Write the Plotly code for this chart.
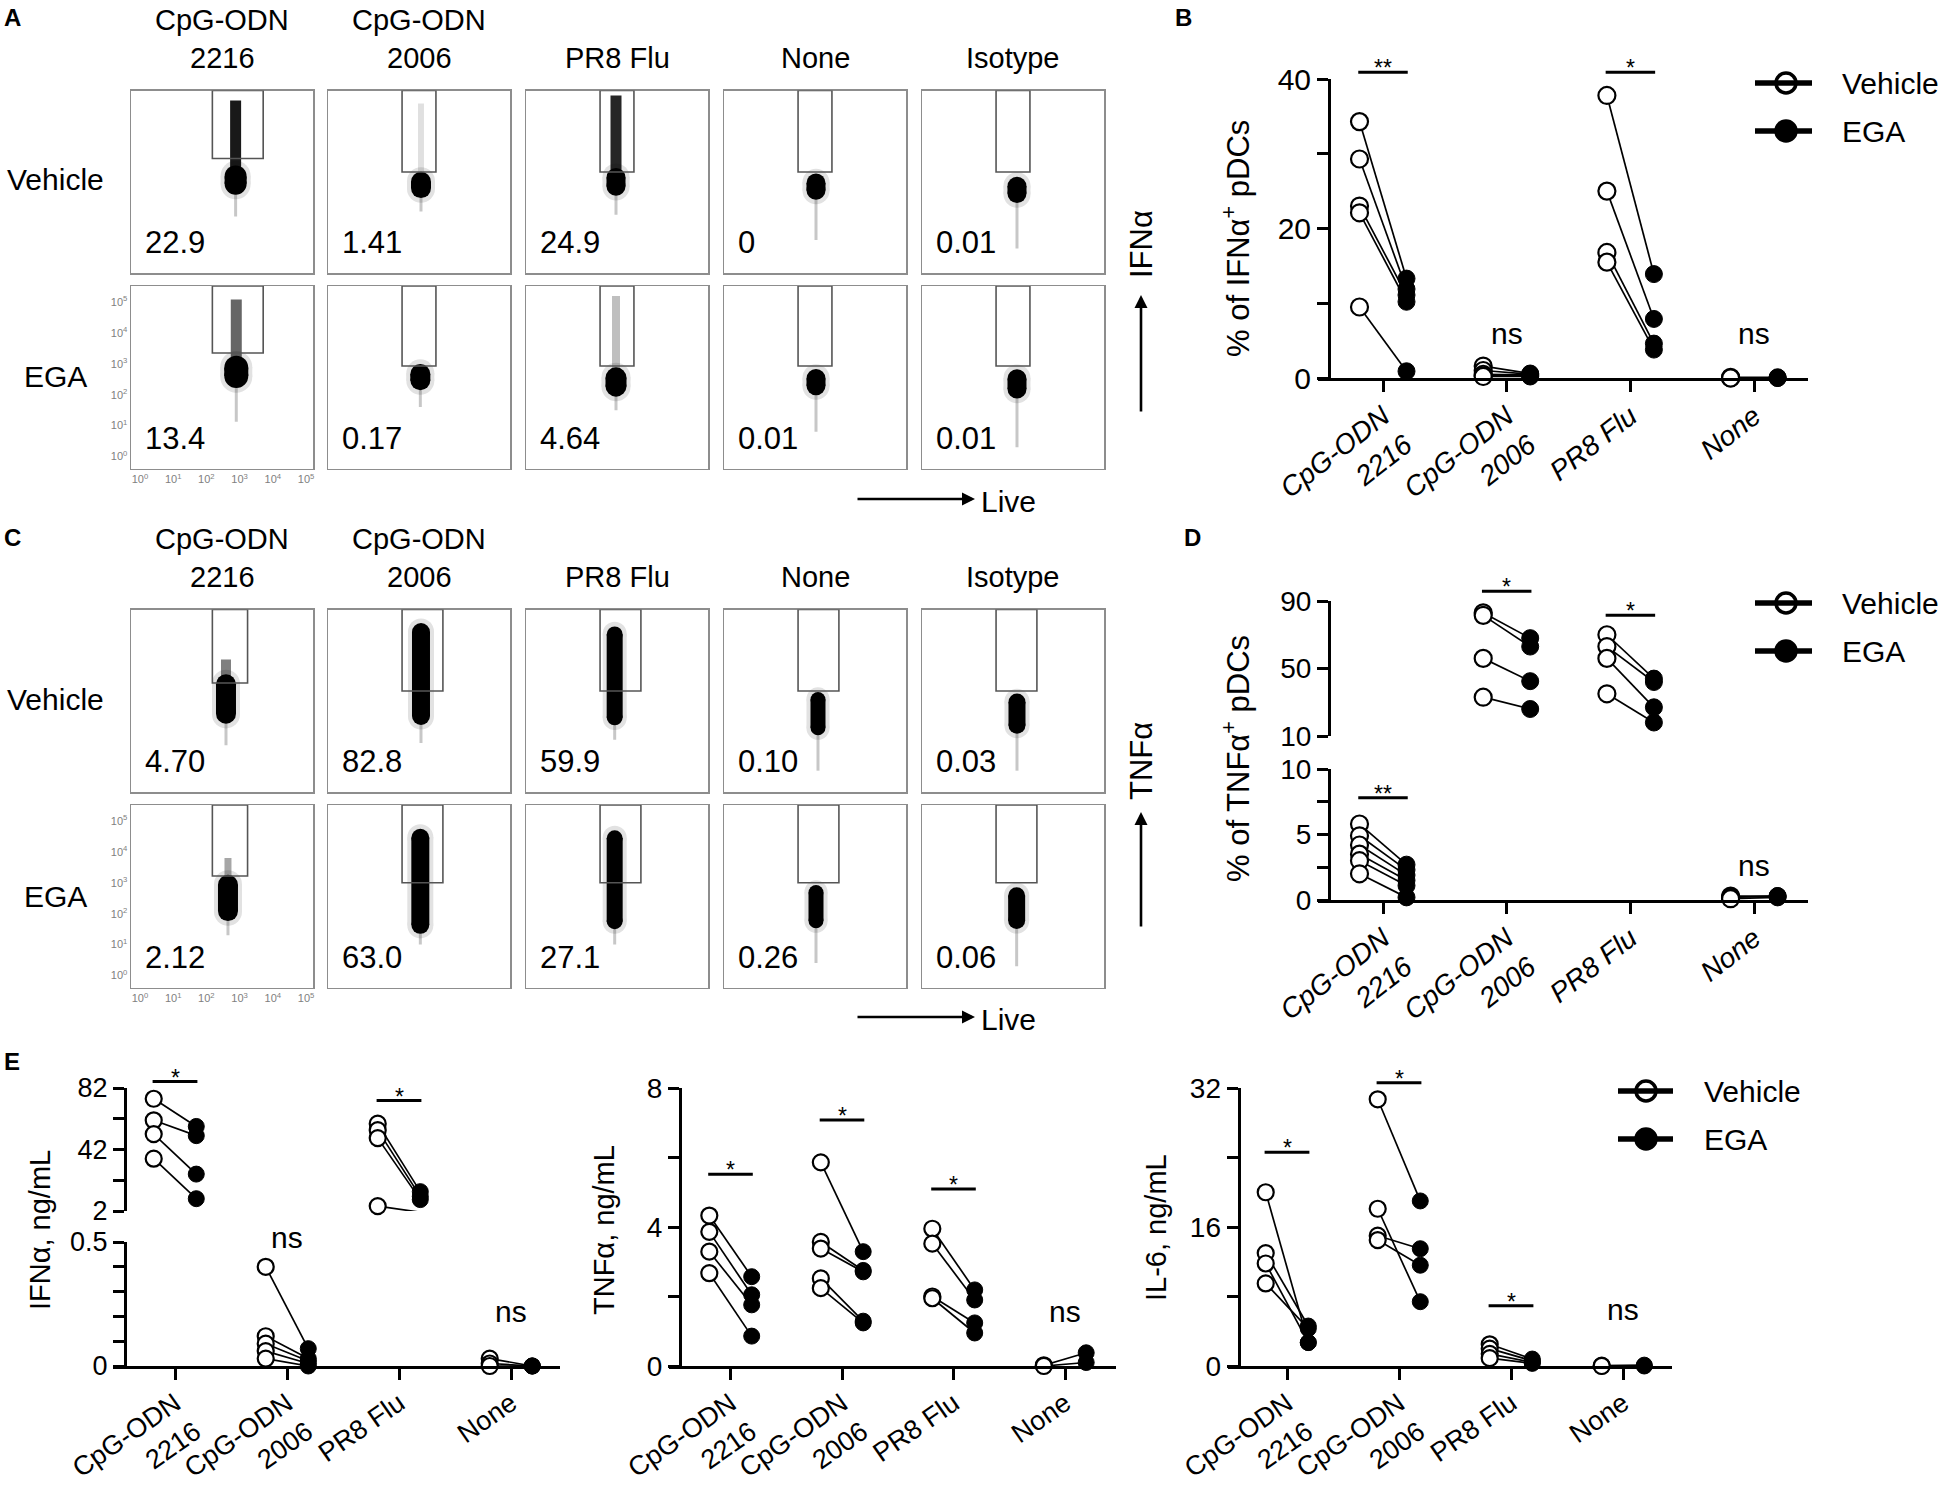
import plotly.graph_objects as go

W, H = 1955, 1496
FONT = "Liberation Sans, Arial, sans-serif"

# ------------------------------------------------------------------ data
header_top = ["CpG-ODN", "CpG-ODN", "", "", ""]
header_bot = ["2216", "2006", "PR8 Flu", "None", "Isotype"]
row_labels = ["Vehicle", "EGA"]
decade_vals = [0, 1, 2, 3, 4, 5]
decade_text = ["10<sup>0</sup>", "10<sup>1</sup>", "10<sup>2</sup>",
               "10<sup>3</sup>", "10<sup>4</sup>", "10<sup>5</sup>"]

# percentages printed in the flow plots (row-major: Vehicle 1-5, EGA 1-5)
A_pct = ["22.9", "1.41", "24.9", "0", "0.01", "13.4", "0.17", "4.64", "0.01", "0.01"]
C_pct = ["4.70", "82.8", "59.9", "0.10", "0.03", "2.12", "63.0", "27.1", "0.26", "0.06"]

# flow clouds, log10 units
A_cloud_x    = [2.88, 2.53, 2.44, 2.50, 2.59, 2.90, 2.51, 2.44, 2.50, 2.59]
A_blob_y     = [2.62, 2.46, 2.56, 2.41, 2.30, 2.74, 2.57, 2.41, 2.41, 2.35]
A_blob_h     = [0.95, 0.85, 0.90, 0.85, 0.85, 1.05, 0.85, 0.95, 0.85, 0.95]
A_blob_w     = [22, 20, 19, 19, 19, 24, 20, 21, 19, 19]
A_streak_top = [5.20, 5.10, 5.36, 0, 0, 5.08, 0, 5.20, 0, 0]
A_streak_w   = [11, 6, 11, 0, 0, 11, 0, 8, 0, 0]
A_streak_a   = [0.9, 0.12, 0.85, 0, 0, 0.6, 0, 0.25, 0, 0]
A_tail_bot   = [1.44, 1.60, 1.50, 0.68, 0.40, 1.12, 1.60, 1.50, 0.80, 0.30]
A_gate_x0    = [2.18, 1.96, 1.96, 1.96, 1.96]
A_gate_x1    = [3.71, 2.98, 2.98, 2.98, 2.98]
A_gate_bot   = [3.32, 2.88, 2.88, 2.88, 2.88, 3.35, 2.93, 2.93, 2.93, 2.93]

C_cloud_x    = [2.59, 2.53, 2.40, 2.56, 2.59, 2.65, 2.51, 2.40, 2.50, 2.58]
C_blob_y     = [2.62, 3.43, 3.37, 2.15, 2.15, 2.51, 3.05, 3.10, 2.23, 2.18]
C_blob_h     = [1.60, 3.30, 3.20, 1.40, 1.30, 1.50, 3.40, 3.20, 1.40, 1.35]
C_blob_w     = [20, 18, 16, 15, 17, 20, 18, 16, 15, 17]
C_streak_top = [3.90, 0, 0, 0, 0, 3.80, 0, 0, 0, 0]
C_streak_w   = [10, 0, 0, 0, 0, 7, 0, 0, 0, 0]
C_streak_a   = [0.5, 0, 0, 0, 0, 0.35, 0, 0, 0, 0]
C_tail_bot   = [1.12, 1.20, 1.30, 0.30, 0.30, 1.30, 1.00, 1.00, 0.40, 0.30]
C_gate_x0    = [2.18, 1.96, 1.96, 1.96, 1.96]
C_gate_x1    = [3.24, 3.19, 3.19, 3.19, 3.19]
C_gate_bot   = [3.14, 2.88, 2.88, 2.88, 2.88, 3.22, 3.00, 3.00, 3.00, 3.00]

cats = ["CpG-ODN<br>2216", "CpG-ODN<br>2006", "PR8 Flu", "None"]

# Panel B: % of IFNa+ pDCs
B_veh = [[34.3, 29.3, 23.0, 22.1, 9.5], [1.6, 1.0, 0.5, 0.3, 0.2], [37.8, 25.0, 16.8, 15.5], [0.1, 0.0, 0.0]]
B_ega = [[13.3, 11.9, 11.1, 10.2, 0.9], [0.6, 0.5, 0.4, 0.3, 0.2], [13.9, 7.9, 4.6, 3.8], [0.1, 0.0, 0.0]]
B_yticks = [0, 10, 20, 30, 40]
B_ytext = ["0", "", "20", "", "40"]
B_sig_cat, B_sig_y, B_sig_txt = [0, 2], [40.9, 40.9], ["**", "*"]
B_ns_cat, B_ns_y = [1, 3], [6.0, 6.0]

# Panel D: % of TNFa+ pDCs (broken axis at 10)
D_veh = [[5.8, 4.9, 4.2, 3.5, 3.0, 2.0], [83.0, 81.5, 56.0, 33.0], [70.0, 63.0, 56.0, 35.0], [0.3, 0.2, 0.1]]
D_ega = [[2.7, 2.3, 1.9, 1.5, 1.1, 0.2], [68.0, 63.0, 42.5, 26.0], [44.0, 42.0, 27.0, 18.0], [0.3, 0.3, 0.2]]
D_break = 10
D_up_yticks, D_up_ytext = [10, 50, 90], ["10", "50", "90"]
D_lo_yticks, D_lo_ytext = [0, 2.5, 5, 7.5, 10], ["0", "", "5", "", "10"]
D_sig_cat, D_sig_y, D_sig_txt = [1, 2, 0], [95.8, 81.5, 7.8], ["*", "*", "**"]
D_ns_cat, D_ns_y = [3], [2.6]

# Panel E: IFNa (broken axis), TNFa, IL-6 in ng/mL
E1_veh = [[75.0, 61.0, 52.0, 36.0], [0.40, 0.12, 0.09, 0.06, 0.03], [58.8, 54.6, 49.4, 5.2], [0.03, 0.01, 0.0]]
E1_ega = [[57.0, 51.0, 26.0, 10.0], [0.07, 0.03, 0.02, 0.01, 0.0], [14.6, 11.5, 9.4, 1.2], [0.0, 0.0, 0.0]]
E1_break = 1
E1_up_yticks, E1_up_ytext = [2, 22, 42, 62, 82], ["2", "", "42", "", "82"]
E1_lo_yticks, E1_lo_ytext = [0, 0.1, 0.2, 0.3, 0.4, 0.5], ["0", "", "", "", "", "0.5"]
E1_sig_cat, E1_sig_y, E1_sig_txt = [0, 2], [86.2, 73.8], ["*", "*"]
E1_ns_cat, E1_ns_y = [1, 3], [0.52, 0.22]

E2_veh = [[4.33, 3.86, 3.29, 2.67], [5.86, 3.57, 3.38, 2.52, 2.24], [3.95, 3.52, 2.00, 1.95], [0.02, 0.0]]
E2_ega = [[2.57, 2.05, 1.76, 0.86], [3.29, 2.75, 2.71, 1.29, 1.24], [2.19, 1.90, 1.24, 0.95], [0.38, 0.10]]
E2_yticks, E2_ytext = [0, 2, 4, 6, 8], ["0", "", "4", "", "8"]
E2_sig_cat, E2_sig_y, E2_sig_txt = [0, 1, 2], [5.52, 7.08, 5.09], ["*", "*", "*"]
E2_ns_cat, E2_ns_y = [3], [1.57]

E3_veh = [[20.0, 13.0, 11.8, 9.5], [30.7, 18.1, 15.0, 14.5], [2.5, 2.0, 1.4, 0.9], [0.05, 0.0]]
E3_ega = [[2.7, 4.6, 2.7, 4.3], [19.0, 7.4, 13.5, 11.6], [0.8, 0.6, 0.4, 0.3], [0.1, 0.0]]
E3_yticks, E3_ytext = [0, 8, 16, 24, 32], ["0", "", "16", "", "32"]
E3_sig_cat, E3_sig_y, E3_sig_txt = [0, 1, 2], [24.6, 32.6, 6.93], ["*", "*", "*"]
E3_ns_cat, E3_ns_y = [3], [6.5]

legend_names = ["Vehicle", "EGA"]

# ------------------------------------------------------------------ helpers
fig = go.Figure()
layout = dict(width=W, height=H,
              margin=dict(l=0, r=0, t=0, b=0, pad=0, autoexpand=False),
              paper_bgcolor="white", plot_bgcolor="rgba(0,0,0,0)",
              showlegend=False, font=dict(family=FONT, color="black", size=30))
shapes, annos = [], []


def names(n):
    s = "" if n == 1 else str(n)
    return "x" + s, "y" + s, "xaxis" + s, "yaxis" + s


CX, CY, CXK, CYK = names(28)
layout[CXK] = dict(domain=[0, 1], range=[0, W], visible=False, fixedrange=True, anchor=CY,
                   automargin=False)
layout[CYK] = dict(domain=[0, 1], range=[H, 0], visible=False, fixedrange=True, anchor=CX,
                   automargin=False)


def text(x, y, s, size=30, xanchor="center", yanchor="middle", angle=0, bold=False):
    annos.append(dict(xref=CX, yref=CY, x=x, y=y, text=("<b>%s</b>" % s) if bold else s,
                      showarrow=False, xanchor=xanchor, yanchor=yanchor, textangle=angle,
                      font=dict(size=size, color="black", family=FONT)))


def arrow(x0, y0, x1, y1):
    annos.append(dict(xref=CX, yref=CY, axref=CX, ayref=CY, x=x1, y=y1, ax=x0, ay=y0,
                      text="", showarrow=True, arrowhead=2, arrowsize=1.0,
                      arrowwidth=2.6, arrowcolor="black"))


def seg(x0, y0, x1, y1, w=3, color="black"):
    shapes.append(dict(type="line", xref=CX, yref=CY, x0=x0, y0=y0, x1=x1, y1=y1,
                       line=dict(color=color, width=w)))


# ------------------------------------------------------------------ flow panels (A, C)
flow_left = [131, 328, 526, 724, 922]
flow_w, flow_h = 182, 182.5
flow_tops = {"A": [90.5, 286.0], "C": [609.5, 805.0]}
header_y = {"A": [20, 58], "C": [539, 577]}
rowlab_y = {"A": [179, 376], "C": [699, 896]}
FX, FY = [-0.27, 5.21], [-0.39, 5.52]
ppd_y = flow_h / (FY[1] - FY[0])
BOX = "#8d8d8d"

flow = {
    "A": dict(pct=A_pct, x=A_cloud_x, by=A_blob_y, bh=A_blob_h, bw=A_blob_w, st=A_streak_top,
              sw=A_streak_w, sa=A_streak_a, tb=A_tail_bot, gx0=A_gate_x0, gx1=A_gate_x1, gb=A_gate_bot),
    "C": dict(pct=C_pct, x=C_cloud_x, by=C_blob_y, bh=C_blob_h, bw=C_blob_w, st=C_streak_top,
              sw=C_streak_w, sa=C_streak_a, tb=C_tail_bot, gx0=C_gate_x0, gx1=C_gate_x1, gb=C_gate_bot),
}


def line_tr(xa, ya, xs, ys, color, width, markers=False):
    fig.add_trace(go.Scatter(x=xs, y=ys, xaxis=xa, yaxis=ya, hoverinfo="skip",
                             mode="lines+markers" if markers else "lines",
                             line=dict(color=color, width=width),
                             marker=dict(size=width, color=color, line=dict(width=0))))


def capsule(xa, ya, x, yc, h, w, color):
    r = (w / 2) / ppd_y
    y0, y1 = yc - h / 2 + r, yc + h / 2 - r
    if y1 < y0:
        y0 = y1 = yc
    line_tr(xa, ya, [x, x], [y0, y1], color, w, markers=True)


n = 0
for key in ["A", "C"]:
    P = flow[key]
    for c in range(5):
        cx = flow_left[c] + flow_w / 2
        if header_top[c]:
            text(cx, header_y[key][0], header_top[c], size=29)
        text(cx, header_y[key][1], header_bot[c], size=29)
    for r in range(2):
        text(55, rowlab_y[key][r], row_labels[r], size=30)
        for c in range(5):
            n += 1
            k = r * 5 + c
            xa, ya, xk, yk = names(n)
            left, top = flow_left[c], flow_tops[key][r]
            show = (r == 1 and c == 0)
            common = dict(showline=True, mirror=True, linecolor=BOX, linewidth=1.5, showgrid=False,
                          zeroline=False, ticks="", showticklabels=show, tickvals=decade_vals,
                          ticktext=decade_text, tickfont=dict(size=11, color="#808080"),
                          fixedrange=True, automargin=False)
            layout[xk] = dict(domain=[left / W, (left + flow_w) / W], range=FX, anchor=ya, **common)
            layout[yk] = dict(domain=[1 - (top + flow_h) / H, 1 - top / H], range=FY, anchor=xa, **common)
            x = P["x"][k]
            # halo of scattered events
            capsule(xa, ya, x, P["by"][k], P["bh"][k] + 0.3, P["bw"][k] + 8, "#e2e2e2")
            # sparse tail
            line_tr(xa, ya, [x, x], [P["tb"][k], P["by"][k]], "rgba(0,0,0,0.22)", 3)
            # streak above the main population
            if P["sw"][k] > 0:
                line_tr(xa, ya, [x, x], [P["by"][k], P["st"][k]],
                        "rgba(0,0,0,%.2f)" % P["sa"][k], P["sw"][k])
            # dense population
            capsule(xa, ya, x, P["by"][k], P["bh"][k], P["bw"][k], "black")
            # gate
            shapes.append(dict(type="rect", xref=xa, yref=ya, x0=P["gx0"][c], x1=P["gx1"][c],
                               y0=P["gb"][k], y1=FY[1], line=dict(color="#555555", width=1.6)))
            annos.append(dict(xref=xa + " domain", yref=ya + " domain", x=0.065, y=0.165,
                              text=P["pct"][k], showarrow=False, xanchor="left", yanchor="middle",
                              font=dict(size=31, color="black", family=FONT)))

# axis labels with arrows for the flow plots
text(1141, 244, "IFNα", size=31, angle=-90)
arrow(1141, 413, 1141, 295)
text(1141, 761, "TNFα", size=31, angle=-90)
arrow(1141, 928, 1141, 812)
for yy in [499, 1017]:
    arrow(856, yy, 975, yy)
    text(979, yy + 2, "Live", size=30, xanchor="left")

# panel letters
for lt, lx, ly in [("A", 2, 2), ("B", 1173, 2), ("C", 2, 522), ("D", 1182, 522), ("E", 2, 1046)]:
    text(lx, ly, lt, size=24, xanchor="left", yanchor="top", bold=True)

# ------------------------------------------------------------------ paired panels
# geometry (pixels): tick0 = first category tick, step = category spacing,
# yax = y-axis position, xl/xr = ends of the x-axis line, y = pixels of yr ends
SPEC = {
    "B":   dict(n=21, tick0=1383, step=123.7, yax=1329, xl=1318, xr=1808, y=(378, 79), yr=(0, 40),
                xvis=True, yt=B_yticks, ytt=B_ytext, tfs=30, italic=True, xfs=28, ang=-38),
    "Du":  dict(n=22, tick0=1383, step=123.7, yax=1329, xl=1318, xr=1808, y=(736, 601), yr=(10, 90),
                xvis=False, yt=D_up_yticks, ytt=D_up_ytext, tfs=28, italic=True, xfs=28, ang=-38),
    "Dl":  dict(n=23, tick0=1383, step=123.7, yax=1329, xl=1318, xr=1808, y=(900, 769), yr=(0, 10),
                xvis=True, yt=D_lo_yticks, ytt=D_lo_ytext, tfs=28, italic=True, xfs=28, ang=-38),
    "E1u": dict(n=24, tick0=175, step=112, yax=125, xl=113, xr=560, y=(1211, 1088), yr=(2, 82),
                xvis=False, yt=E1_up_yticks, ytt=E1_up_ytext, tfs=27, italic=False, xfs=27, ang=-35),
    "E1l": dict(n=25, tick0=175, step=112, yax=125, xl=113, xr=560, y=(1366, 1242), yr=(0, 0.5),
                xvis=True, yt=E1_lo_yticks, ytt=E1_lo_ytext, tfs=27, italic=False, xfs=27, ang=-35),
    "E2":  dict(n=26, tick0=730.5, step=111.5, yax=680, xl=669, xr=1116, y=(1366, 1088), yr=(0, 8),
                xvis=True, yt=E2_yticks, ytt=E2_ytext, tfs=28, italic=False, xfs=27, ang=-35),
    "E3":  dict(n=27, tick0=1287, step=112, yax=1238.6, xl=1228, xr=1672, y=(1366, 1088), yr=(0, 32),
                xvis=True, yt=E3_yticks, ytt=E3_ytext, tfs=28, italic=False, xfs=27, ang=-35),
}

for key, sp in SPEC.items():
    xa, ya, xk, yk = names(sp["n"])
    sp["xr_"] = ((sp["xl"] - sp["tick0"]) / sp["step"], (sp["xr"] - sp["tick0"]) / sp["step"])
    layout[xk] = dict(domain=[sp["xl"] / W, sp["xr"] / W], range=list(sp["xr_"]), anchor=ya,
                      visible=sp["xvis"], showline=True, linecolor="black", linewidth=3,
                      ticks="outside", ticklen=11, tickwidth=3, tickcolor="black",
                      tickvals=[0, 1, 2, 3], ticktext=cats, tickangle=sp["ang"], showgrid=False,
                      zeroline=False, fixedrange=True, automargin=False, ticklabelstandoff=-3,
                      tickfont=dict(size=sp["xfs"], family=FONT, color="black",
                                    style="italic" if sp["italic"] else "normal"))
    layout[yk] = dict(domain=[1 - sp["y"][0] / H, 1 - sp["y"][1] / H], range=list(sp["yr"]),
                      anchor="free", position=sp["yax"] / W, showline=True, linecolor="black",
                      linewidth=3, ticks="outside", ticklen=11, tickwidth=3, tickcolor="black",
                      tickvals=sp["yt"], ticktext=sp["ytt"], showgrid=False, zeroline=False,
                      fixedrange=True, automargin=False,
                      tickfont=dict(size=sp["tfs"], family=FONT, color="black"))


def mx(sp, v):
    return sp["tick0"] + v * sp["step"]


def my(sp, v):
    a, b = sp["y"]; r0, r1 = sp["yr"]
    return a + (v - r0) / (r1 - r0) * (b - a)


OFF = 0.19


def draw_pairs(pick, veh, ega, ms):
    for i in range(4):
        sp = SPEC[pick(i)]
        xa, ya, _, _ = names(sp["n"])
        xs, ys = [], []
        for v, e in zip(veh[i], ega[i]):
            xs += [i - OFF, i + OFF, None]
            ys += [v, e, None]
        fig.add_trace(go.Scatter(x=xs, y=ys, xaxis=xa, yaxis=ya, mode="lines", hoverinfo="skip",
                                 line=dict(color="black", width=1.7)))
        fig.add_trace(go.Scatter(x=[i + OFF] * len(ega[i]), y=ega[i], xaxis=xa, yaxis=ya,
                                 mode="markers", cliponaxis=False, hoverinfo="skip",
                                 marker=dict(symbol="circle", size=ms, color="black",
                                             line=dict(color="black", width=1))))
        fig.add_trace(go.Scatter(x=[i - OFF] * len(veh[i]), y=veh[i], xaxis=xa, yaxis=ya,
                                 mode="markers", cliponaxis=False, hoverinfo="skip",
                                 marker=dict(symbol="circle", size=ms, color="white",
                                             line=dict(color="black", width=2.2))))


def draw_sig(pick, sc, sy, st, nc, ny):
    for c, yv, t in zip(sc, sy, st):
        sp = SPEC[pick(c)]
        py = my(sp, yv)
        seg(mx(sp, c - 0.2), py, mx(sp, c + 0.2), py, w=3)
        text(mx(sp, c), py - 4, t, size=23)
    for c, yv in zip(nc, ny):
        sp = SPEC[pick(c)]
        text(mx(sp, c), my(sp, yv), "ns", size=30)


pickB = lambda i: "B"
pickD = lambda i: "Du" if max(D_veh[i] + D_ega[i]) > D_break else "Dl"
pickE1 = lambda i: "E1u" if max(E1_veh[i] + E1_ega[i]) > E1_break else "E1l"
pickE2 = lambda i: "E2"
pickE3 = lambda i: "E3"

draw_pairs(pickB, B_veh, B_ega, 17)
draw_pairs(pickD, D_veh, D_ega, 17)
draw_pairs(pickE1, E1_veh, E1_ega, 16)
draw_pairs(pickE2, E2_veh, E2_ega, 16)
draw_pairs(pickE3, E3_veh, E3_ega, 16)

draw_sig(pickB, B_sig_cat, B_sig_y, B_sig_txt, B_ns_cat, B_ns_y)
draw_sig(pickD, D_sig_cat, D_sig_y, D_sig_txt, D_ns_cat, D_ns_y)
draw_sig(pickE1, E1_sig_cat, E1_sig_y, E1_sig_txt, E1_ns_cat, E1_ns_y)
draw_sig(pickE2, E2_sig_cat, E2_sig_y, E2_sig_txt, E2_ns_cat, E2_ns_y)
draw_sig(pickE3, E3_sig_cat, E3_sig_y, E3_sig_txt, E3_ns_cat, E3_ns_y)

# y-axis titles
text(1236, 239, "% of IFNα<sup>+</sup> pDCs", size=31, angle=-90)
text(1236, 759, "% of TNFα<sup>+</sup> pDCs", size=31, angle=-90)
text(40, 1230, "IFNα, ng/mL", size=29, angle=-90)
text(604, 1230, "TNFα, ng/mL", size=29, angle=-90)
text(1156, 1228, "IL-6, ng/mL", size=29, angle=-90)

# legends
for (lx0, lx1, mxp, tx, yv, ye) in [(1755, 1812, 1786, 1840, 83, 131),
                                    (1755, 1812, 1786, 1840, 603, 651),
                                    (1618, 1673, 1646, 1702, 1091, 1139)]:
    for j, yy in enumerate([yv, ye]):
        seg(lx0, yy, lx1, yy, w=5.5)
        fig.add_trace(go.Scatter(x=[mxp], y=[yy], xaxis=CX, yaxis=CY, mode="markers",
                                 hoverinfo="skip",
                                 marker=dict(symbol="circle", size=20,
                                             color="white" if j == 0 else "black",
                                             line=dict(color="black", width=3.5))))
        text(tx, yy, legend_names[j], size=30, xanchor="left")

layout["shapes"] = shapes
layout["annotations"] = annos
fig.update_layout(**layout)
fig.write_html("out.html", config={"displayModeBar": False, "staticPlot": True},
               post_script="document.body.style.margin='0';document.body.style.overflow='hidden';")
